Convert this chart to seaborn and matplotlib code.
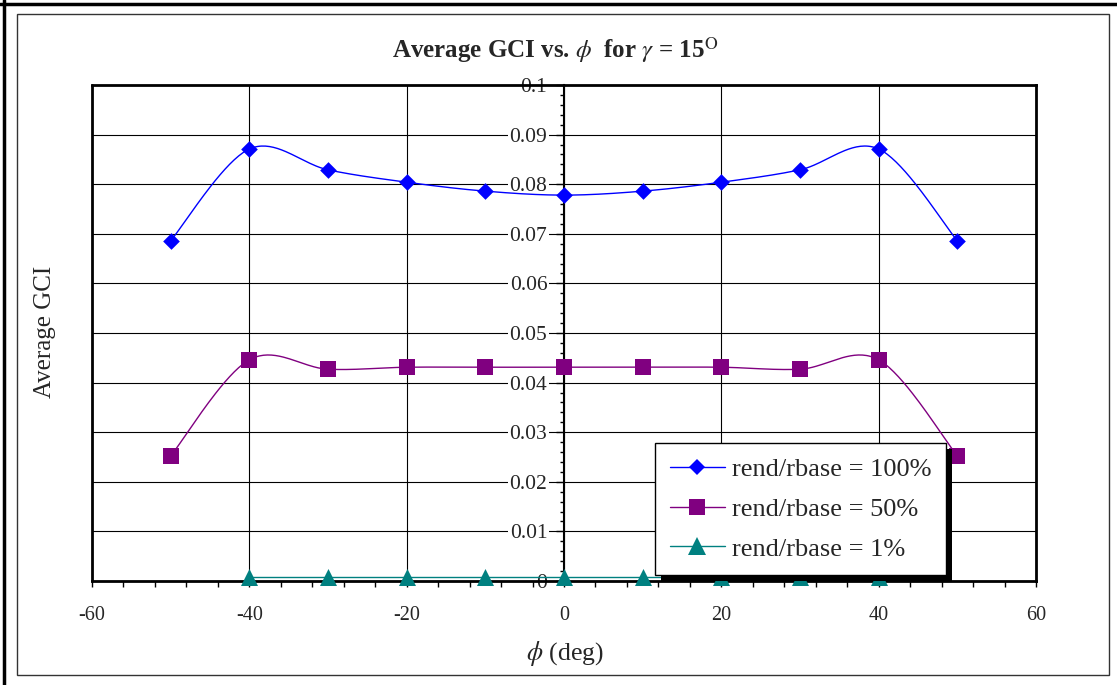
import numpy as np
import pandas as pd
import matplotlib
matplotlib.use("Agg")
import matplotlib.pyplot as plt
import seaborn as sns
from matplotlib.lines import Line2D
from matplotlib.patches import Rectangle
from matplotlib.ticker import MultipleLocator, FuncFormatter
from matplotlib.transforms import IdentityTransform

# ---------------- data ----------------
phi_100 = [-50, -40, -30, -20, -10, 0, 10, 20, 30, 40, 50]
gci_100 = [0.0686, 0.0871, 0.0829, 0.0804, 0.0786, 0.0778, 0.0786, 0.0804, 0.0829, 0.0871, 0.0686]
phi_50 = [-50, -40, -30, -20, -10, 0, 10, 20, 30, 40, 50]
gci_50 = [0.0252, 0.0446, 0.0427, 0.0431, 0.0431, 0.0431, 0.0431, 0.0431, 0.0427, 0.0446, 0.0252]
phi_1 = [-40, -30, -20, -10, 0, 10, 20, 30, 40]
gci_1 = [0.0009, 0.0009, 0.0009, 0.0009, 0.0009, 0.0009, 0.0009, 0.0009, 0.0009]
series_labels = ["rend/rbase = 100%", "rend/rbase = 50%", "rend/rbase = 1%"]
series_colors = ["#0000FF", "#800080", "#008080"]
series_markers = ["D", "s", "^"]
x_ticks = [-60, -40, -20, 0, 20, 40, 60]
y_ticks = [0, 0.01, 0.02, 0.03, 0.04, 0.05, 0.06, 0.07, 0.08, 0.09, 0.1]

sns.set_theme(style="white")
plt.rcParams["font.family"] = ["Liberation Serif", "DejaVu Serif"]
plt.rcParams["mathtext.fontset"] = "stix"

W, H = 1117, 685
fig = plt.figure(figsize=(W / 100, H / 100), dpi=100)
fig.patch.set_facecolor("white")
ax = fig.add_axes([92 / W, 1 - 581 / H, (1036 - 92) / W, (581 - 85) / H])
ax.set_facecolor("white")


def smooth(x, y, n=40):
    """Excel-style smoothed line (Bezier through the points)."""
    x = np.asarray(x, float)
    y = np.asarray(y, float)
    P = np.column_stack([x, y])
    out = [P[0]]
    for i in range(len(P) - 1):
        p0 = P[i - 1] if i > 0 else P[i]
        p1 = P[i]
        p2 = P[i + 1]
        p3 = P[i + 2] if i + 2 < len(P) else P[i + 1]
        c1 = p1 + (p2 - p0) / 6.0
        c2 = p2 - (p3 - p1) / 6.0
        t = np.linspace(0, 1, n)[1:, None]
        seg = ((1 - t) ** 3) * p1 + 3 * ((1 - t) ** 2) * t * c1 + 3 * (1 - t) * t ** 2 * c2 + t ** 3 * p2
        out.extend(seg)
    out = np.array(out)
    return out[:, 0], out[:, 1]


all_series = [(phi_100, gci_100), (phi_50, gci_50), (phi_1, gci_1)]
marker_sizes = [72, 125, 150]
handles = []
for (xs, ys), lab, col, mk, ms in zip(all_series, series_labels, series_colors, series_markers, marker_sizes):
    sx, sy = smooth(xs, ys)
    df_line = pd.DataFrame({"phi": sx, "gci": sy})
    sns.lineplot(data=df_line, x="phi", y="gci", color=col, lw=1.0, ax=ax,
                 sort=False, estimator=None, legend=False, zorder=2)
    df_pts = pd.DataFrame({"phi": xs, "gci": ys})
    sns.scatterplot(data=df_pts, x="phi", y="gci", marker=mk, s=ms, color=col,
                    edgecolor=col, linewidth=0, ax=ax, legend=False, zorder=3, clip_on=False)
    handles.append(Line2D([], [], color=col, lw=1.0, marker=mk, markersize=np.sqrt(ms),
                          markeredgewidth=0, label=lab))

ax.set_xlim(-60, 60)
ax.set_ylim(0, 0.1)
ax.set_xlabel("")
ax.set_ylabel("")
ax.set_xticks(x_ticks)
ax.set_yticks(y_ticks)
ax.xaxis.set_minor_locator(MultipleLocator(4))
ax.yaxis.set_minor_locator(MultipleLocator(0.002))
ax.yaxis.set_major_formatter(FuncFormatter(lambda v, p: f"{v:g}"))
ax.xaxis.set_major_formatter(FuncFormatter(lambda v, p: f"{v:g}"))
ax.grid(True, which="major", color="black", lw=0.8)
ax.grid(False, which="minor")

for s in ["top", "right", "bottom"]:
    ax.spines[s].set_visible(True)
    ax.spines[s].set_color("black")
    ax.spines[s].set_linewidth(2)
ax.spines["left"].set_position(("data", 0))
ax.spines["left"].set_color("black")
ax.spines["left"].set_linewidth(1.5)
ax.plot([0, 0], [0, 1], transform=ax.transAxes, color="black", lw=2, clip_on=False, zorder=1.5)

ax.tick_params(axis="x", which="both", direction="out", length=4, width=1, color="black",
               pad=14, labelsize=14.5, bottom=True)
ax.tick_params(axis="y", which="major", direction="out", length=6, width=1, color="black",
               pad=6, labelsize=15.5, left=True)
ax.tick_params(axis="y", which="minor", direction="out", length=3, width=1, color="black", left=True)
for t in ax.yaxis.get_major_ticks():
    t.label1.set_bbox(dict(facecolor="white", edgecolor="none", pad=1))

leg = ax.legend(handles=handles, loc="upper left", bbox_to_anchor=(655 / W, 1 - 443 / H),
                bbox_transform=fig.transFigure, borderaxespad=0, fontsize=19,
                frameon=True, fancybox=False, framealpha=1, edgecolor="black",
                handlelength=2.1, handletextpad=0.25, borderpad=0.55, labelspacing=0.62)
leg.get_frame().set_linewidth(1)
leg.set_zorder(6)

# titles and labels
fig.text(555 / W, 1 - 50 / H, r"Average GCI vs. $\phi$  for $\gamma$ = 15$^{\mathrm{O}}$",
         ha="center", va="center", fontsize=18, fontweight="bold")
fig.text(45 / W, 1 - 332 / H, "Average GCI", rotation=90, ha="center", va="center", fontsize=18)
fig.text(565 / W, 1 - 653 / H, r"$\phi$ (deg)", ha="center", va="center", fontsize=18.5)

# chart area borders
fig.add_artist(Rectangle((17 / W, 1 - 675 / H), (1109 - 17) / W, (675 - 14) / H,
                         transform=fig.transFigure, fill=False, ec="#333333", lw=1))
fig.add_artist(Line2D([3.5 / W, 3.5 / W], [0, 1], transform=fig.transFigure, color="black", lw=2.5))
fig.add_artist(Line2D([0, 1], [1 - 3.5 / H, 1 - 3.5 / H], transform=fig.transFigure, color="black", lw=2.5))

# legend shadow
fig.canvas.draw()
bb = leg.get_window_extent()
shadow = Rectangle((bb.x0 + 6, bb.y0 - 6), bb.width, bb.height, transform=IdentityTransform(),
                   facecolor="black", edgecolor="none", zorder=5.5, clip_on=False)
ax.add_artist(shadow)

fig.savefig("out.png", dpi=100, facecolor="white")
